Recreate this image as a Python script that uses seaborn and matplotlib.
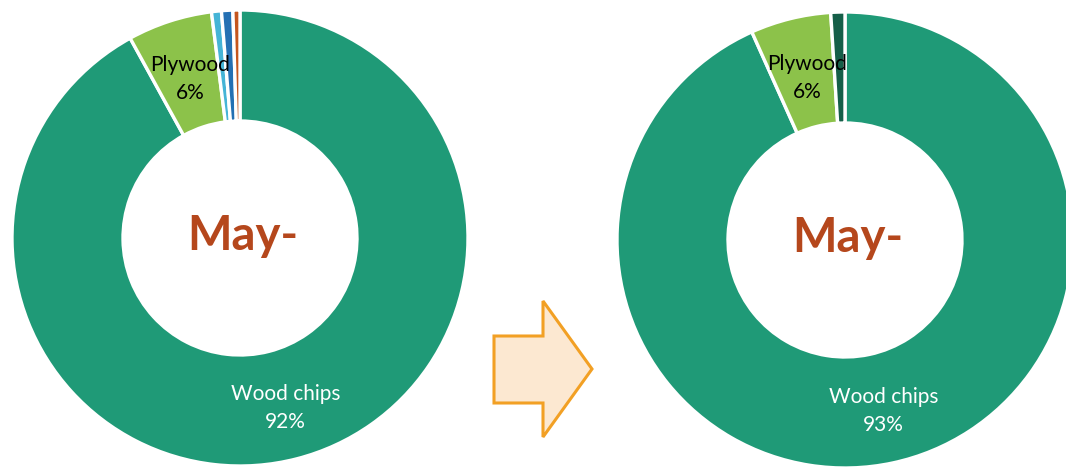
import numpy as np
import matplotlib
matplotlib.use("Agg")
import matplotlib.pyplot as plt
from matplotlib.patches import Polygon
import seaborn as sns

sns.set_theme(style="white")
plt.rcParams['font.family'] = ['Lato', 'DejaVu Sans']

# Share of each material, before and after (percent)
before_labels = ["Wood chips", "Plywood", "Other A", "Other B", "Other C"]
before_values = [92.0, 6.0, 0.7, 0.8, 0.5]
before_colors = ["#1F9A77", "#8CC24A", "#45B4D6", "#2470B3", "#C5561E"]

after_labels = ["Wood chips", "Plywood", "Other D"]
after_values = [93.3, 5.7, 1.0]
after_colors = ["#1F9A77", "#8CC24A", "#155F48"]

center_title = "May-"
shown_labels = {"Wood chips", "Plywood"}

W, H = 1066, 468
fig = plt.figure(figsize=(W / 100, H / 100), dpi=100)
ax = fig.add_axes([0, 0, 1, 1])
ax.set_xlim(0, W)
ax.set_ylim(0, H)
ax.set_aspect("equal")
ax.axis("off")

R_OUT = 228
RING = 111


def donut(center, labels, values, colors):
    wedges, _ = ax.pie(values, colors=colors, center=center, radius=R_OUT,
                       startangle=90, counterclock=False,
                       wedgeprops=dict(width=RING, edgecolor="white", linewidth=2.4),
                       frame=True)
    total = sum(values)
    for w, lab, val in zip(wedges, labels, values):
        if lab not in shown_labels:
            continue
        mid = np.deg2rad((w.theta1 + w.theta2) / 2)
        r = 0.75 * R_OUT
        x = center[0] + r * np.cos(mid) + 3
        y = center[1] + r * np.sin(mid) - 4
        col = "white" if lab == "Wood chips" else "black"
        ax.text(x, y, f"{lab}\n{val / total * 100:.0f}%", ha="center", va="center",
                fontsize=15, color=col, linespacing=1.5, multialignment="center")
    ax.text(center[0] + 3, center[1] + 2, center_title, ha="center", va="center",
            fontsize=34, fontweight="bold", color="#B5471C")


donut((240, H - 238), before_labels, before_values, before_colors)
donut((845, H - 240), after_labels, after_values, after_colors)

# Block arrow between the two rings
arrow_px = [(494, 336), (543, 336), (543, 301), (592, 369),
            (543, 437), (543, 403), (494, 403)]
ax.add_patch(Polygon([(x, H - y) for x, y in arrow_px], closed=True,
                     facecolor="#FCE8D1", edgecolor="#F2A024", linewidth=2.2,
                     joinstyle="miter"))

ax.set_xlim(0, W)
ax.set_ylim(0, H)
ax.axis("off")
fig.savefig("out.png", dpi=100)
